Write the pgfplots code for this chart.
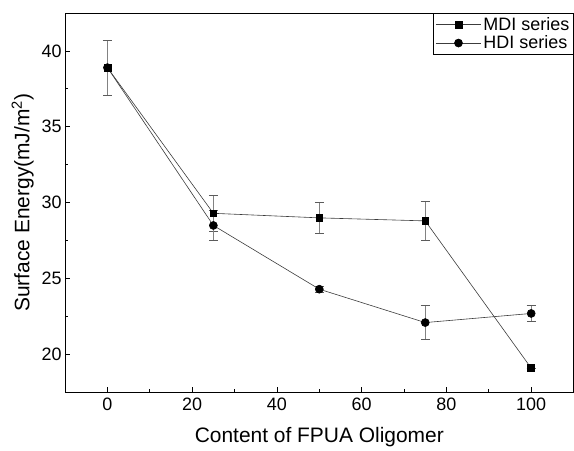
\documentclass[border=0pt]{standalone}
\usepackage{fontspec}
\setmainfont{Liberation Sans}
\usepackage{pgfplots}
\pgfplotsset{compat=1.18}
\usepackage{pgfplotstable}

\definecolor{lineGray}{RGB}{60,60,60}
\definecolor{errGray}{RGB}{130,130,130}

% x  y  err
\pgfplotstableread{
x    y     e
0    38.9  1.8
25   29.3  1.2
50   29.0  1.0
75   28.8  1.3
100  19.1  0.0
}\mdi
\pgfplotstableread{
x    y     e
0    38.9  1.8
25   28.5  1.0
50   24.3  0.2
75   22.1  1.1
100  22.7  0.5
}\hdi

\begin{document}
\begin{tikzpicture}
\begin{axis}[
  scale only axis,
  width=508bp, height=379bp,
  xmin=-10, xmax=110, ymin=17.5, ymax=42.5,
  xtick={0,20,...,100}, minor x tick num=1,
  ytick={20,25,...,40}, minor y tick num=1,
  xtick pos=left, ytick pos=left,
  tick align=inside,
  major tick length=5bp, minor tick length=3bp,
  axis line style={line width=0.9bp},
  tick style={line width=0.8bp, black},
  tick label style={font=\fontsize{18}{18}\selectfont},
  xticklabel style={yshift=-2bp},
  /pgf/number format/assume math mode=true,
  label style={font=\fontsize{21}{21}\selectfont},
  xlabel={Content of FPUA Oligomer},
  ylabel={Surface Energy(mJ/m\textsuperscript{2})},
  xlabel style={at={(axis description cs:0.5,0)}, anchor=base, yshift=-50bp},
  ylabel shift=1bp,
  legend style={at={(1,1)}, anchor=north east, draw=black, line width=0.6bp,
    font=\fontsize{18}{20}\selectfont, inner xsep=2bp, inner ysep=2bp},
  legend cell align=left,
  legend image code/.code={
    \draw[mark repeat=2, mark phase=2, #1]
      plot coordinates {(0cm,0cm) (0.8cm,0cm) (1.6cm,0cm)};},
  error bars/error bar style={errGray, line width=0.8bp},
  error bars/error mark options={rotate=90, mark size=4.5bp, errGray!70!black, line width=0.8bp},
  after end axis/.code={
    \path (rel axis cs:0,0) ++(-65bp,-53bp);
    \path (rel axis cs:1,1) ++(0bp,13bp);
  },
]
\addplot[lineGray, line width=0.6bp, mark=square*, mark size=3.4bp,
  mark options={fill=black, draw=black},
  error bars/.cd, y dir=both, y explicit]
  table[x=x, y=y, y error=e] {\mdi};
\addlegendentry{MDI series}
\addplot[lineGray, line width=0.6bp, mark=*, mark size=4bp,
  mark options={fill=black, draw=black},
  error bars/.cd, y dir=both, y explicit]
  table[x=x, y=y, y error=e] {\hdi};
\addlegendentry{HDI series}
\end{axis}
\end{tikzpicture}
\end{document}
